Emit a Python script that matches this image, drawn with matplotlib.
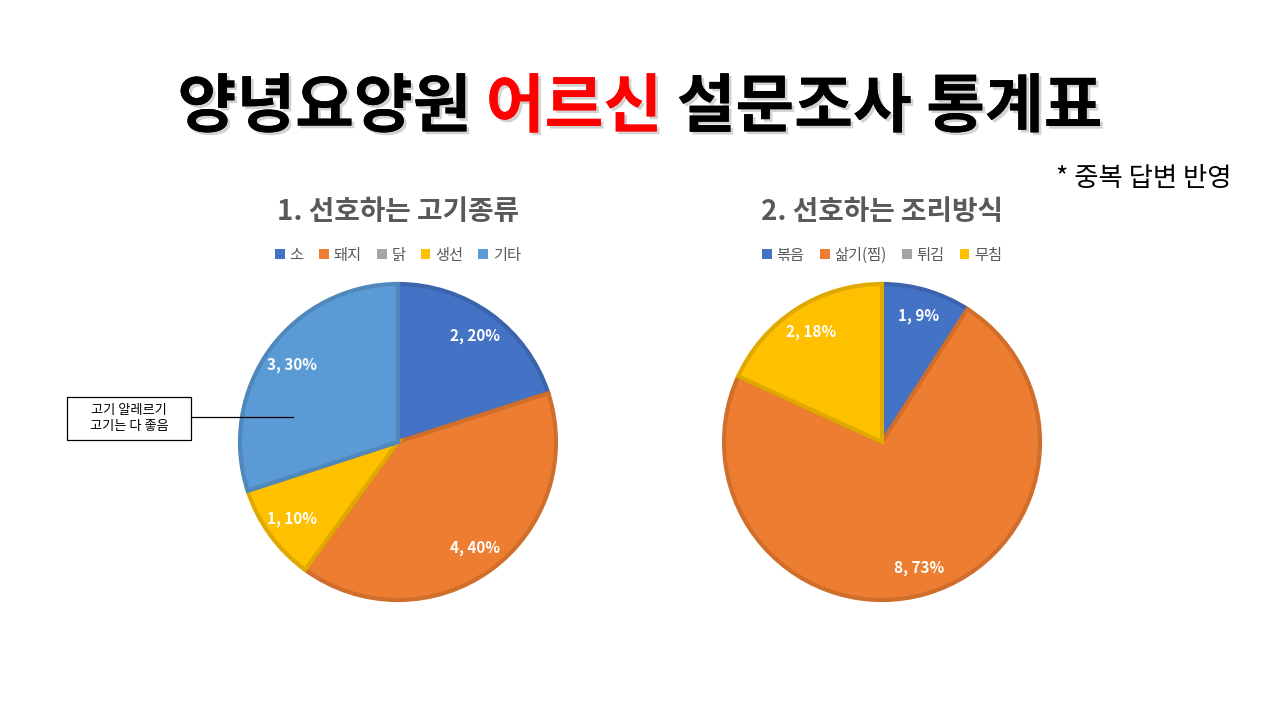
import matplotlib
matplotlib.use('Agg')
import matplotlib.pyplot as plt
import matplotlib.patheffects as pe
from matplotlib.patches import Patch, Rectangle
import numpy as np

plt.rcParams['font.family'] = ['Noto Sans CJK KR', 'DejaVu Sans']

# 데이터
meat_labels = ['소', '돼지', '닭', '생선', '기타']
meat_counts = [2, 4, 0, 1, 3]
meat_colors = ['#4472C4', '#ED7D31', '#A5A5A5', '#FFC000', '#5B9BD5']

cook_labels = ['볶음', '삶기(찜)', '튀김', '무침']
cook_counts = [1, 8, 0, 2]
cook_colors = ['#4472C4', '#ED7D31', '#A5A5A5', '#FFC000']

title_parts = ['양녕요양원 ', '어르신', ' 설문조사 통계표']
title_colors = ['black', '#FF0000', 'black']
note_text = '* 중복 답변 반영'
memo_text = '고기 알레르기\n고기는 다 좋음'

W, H = 1280, 720
fig = plt.figure(figsize=(12.8, 7.2), dpi=100)
fig.patch.set_facecolor('white')

def darker(hexcol, f=0.88):
    rgb = np.array(matplotlib.colors.to_rgb(hexcol))
    return tuple(rgb * f)

def draw_pie(cx, cy, r, counts, labels, colors, title):
    lim = 1.1
    size = 2 * lim * r
    ax = fig.add_axes([(cx - lim * r) / W, (H - cy - lim * r) / H, size / W, size / H])
    total = sum(counts)
    texts = ['%d, %d%%' % (c, round(c * 100 / total)) if c > 0 else '' for c in counts]
    wedges, txts = ax.pie(counts, labels=texts, colors=colors, startangle=90,
                          counterclock=False, labeldistance=0.83,
                          wedgeprops=dict(linewidth=3),
                          textprops=dict(color='white', fontsize=11, fontweight='bold'))
    for w, col, c in zip(wedges, colors, counts):
        w.set_edgecolor(darker(col))
        if c == 0:
            w.set_visible(False)
    for t in txts:
        t.set_ha('center')
        t.set_va('center')
    ax.set_xlim(-lim, lim)
    ax.set_ylim(-lim, lim)
    ax.set_aspect('equal')
    ax.axis('off')

    fig.text(cx / W, 1 - 212 / H, title, ha='center', va='center',
             fontsize=20, fontweight='bold', color='#595959')
    handles = [Patch(facecolor=c, edgecolor='none') for c in colors]
    fig.legend(handles, labels, loc='center', bbox_to_anchor=(cx / W, 1 - 255 / H),
               ncol=len(labels), frameon=False, fontsize=11,
               handlelength=0.65, handleheight=0.65, handletextpad=0.3,
               columnspacing=1.0, labelcolor='#595959')
    return ax

ax1 = draw_pie(398, 442, 158, meat_counts, meat_labels, meat_colors, '1. 선호하는 고기종류')
ax2 = draw_pie(882, 442, 158, cook_counts, cook_labels, cook_colors, '2. 선호하는 조리방식')

# 제목 (부분별 색상)
fig.canvas.draw()
renderer = fig.canvas.get_renderer()
shadow = [pe.withSimplePatchShadow(offset=(2, -2), shadow_rgbFace='gray', alpha=0.35), pe.Normal()]
pieces = []
for s, c in zip(title_parts, title_colors):
    t = fig.text(0, 1 - 108 / H, s, ha='left', va='center', fontsize=46,
                 fontweight='black', color=c, path_effects=shadow)
    pieces.append(t)
widths = [p.get_window_extent(renderer).width for p in pieces]
x = (W - sum(widths)) / 2
for p, w in zip(pieces, widths):
    p.set_x(x / W)
    x += w

fig.text(1232 / W, 1 - 178 / H, note_text, ha='right', va='center', fontsize=19, color='black')

# 메모 상자
fig.add_artist(Rectangle((67 / W, 1 - 440 / H), (191 - 67) / W, (440 - 397) / H,
                         transform=fig.transFigure, facecolor='white',
                         edgecolor='black', linewidth=0.9))
fig.text(129 / W, 1 - 418.5 / H, memo_text, ha='center', va='center', fontsize=9.5,
         color='black', linespacing=1.35)
fig.add_artist(plt.Line2D([191 / W, 293 / W], [1 - 417 / H, 1 - 417 / H],
                          color='black', linewidth=0.9))

fig.savefig('out.png', dpi=100, facecolor='white')
